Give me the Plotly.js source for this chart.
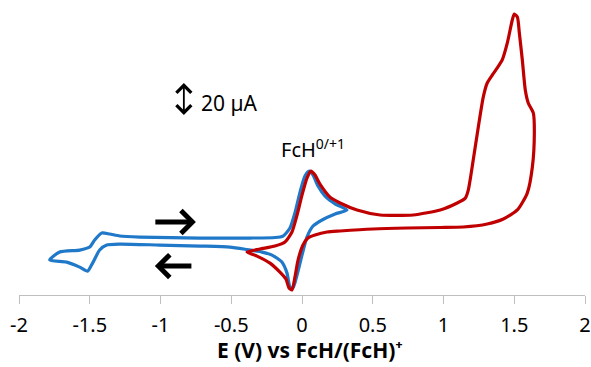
<!DOCTYPE html>
<html><head><meta charset="utf-8">
<script src="https://cdn.plot.ly/plotly-3.0.1.min.js"></script>
<style>html,body{margin:0;padding:0;background:#fff}</style>
</head><body><div id="chart" style="width:591px;height:367px"></div>
<script>
// Potential E (V vs FcH/FcH+) and current I (µA)
const blueE = [0.318,0.234,0.142,0.078,0.035,0.000,-0.035,-0.064,-0.085,-0.106,-0.142,-0.212,-0.283,-0.389,-0.51,-0.72,-1.005,-1.288,-1.38,-1.43,-1.48,-1.515,-1.571,-1.663,-1.783,
  -1.713,-1.571,-1.50,-1.465,-1.415,-1.359,-1.288,-1.146,-0.722,-0.368,-0.19,-0.134,-0.085,-0.05,-0.014,0.021,0.05,0.078,0.113,0.163,0.234,0.318];
const blueI = [18.0,15.6,12.0,8.4,1.8,-9.0,-21.0,-28.7,-28.1,-19.8,-13.2,-9.0,-7.2,-5.7,-4.2,-3.6,-3.0,-2.4,-3.0,-6.0,-13.8,-18.6,-16.2,-13.2,-12.0,
  -7.2,-6.0,-4.2,0,4.2,3.6,2.4,1.8,1.2,1.2,1.5,2.4,7.2,16.2,28.7,38.3,41.3,38.9,32.3,26.3,21.6,18.0];

const redE = [-0.389,-0.297,-0.191,-0.12,-0.071,-0.035,0.0,0.035,0.064,0.092,0.127,0.198,0.269,0.389,0.552,0.786,0.977,1.097,1.154,1.175,1.21,1.246,1.281,1.309,1.345,1.38,1.415,1.451,1.486,1.50,1.522,1.536,1.557,1.578,1.599,1.635,
  1.642,1.628,1.592,1.522,1.423,1.309,1.139,0.977,0.743,0.502,0.269,0.177,0.092,0.042,0.007,-0.028,-0.05,-0.071,-0.092,-0.113,-0.156,-0.226,-0.318,-0.389];
const redI = [-7.2,-5.4,-3.6,-1.2,4.8,15.0,26.9,37.1,41.3,38.9,33.5,25.7,22.2,18.0,15.0,15.0,18.0,22.2,25.1,29.9,47.9,67.7,85.6,94.0,98.8,103.0,107.8,118.0,131.7,135.3,133.5,124.0,107.8,89.8,82.0,76.0,
  64.1,43.7,28.1,18.0,12.6,9.6,7.8,7.5,7.2,6.6,5.4,4.8,3.0,1.2,-3.0,-12.0,-22.2,-29.9,-28.7,-23.4,-19.2,-13.8,-9.6,-7.2];

const xTicks = [-2,-1.5,-1,-0.5,0,0.5,1,1.5,2];
const xTickText = ['-2','-1.5','-1','-0.5','0','0.5','1','1.5','2'];
const scaleBarI = 20; // µA

const FONT = 'Noto Sans, Open Sans, Liberation Sans, sans-serif';
const traces = [
  {x: blueE, y: blueI, mode: 'lines', line: {color: '#1f78c8', width: 3.2, shape: 'spline', smoothing: 0.6}, hoverinfo: 'skip'},
  {x: redE, y: redI, mode: 'lines', line: {color: '#c00000', width: 3.2, shape: 'spline', smoothing: 0.6}, hoverinfo: 'skip'}
];
const layout = {
  width: 591, height: 367,
  margin: {l: 19, r: 6, t: 5, b: 72},
  showlegend: false,
  paper_bgcolor: '#fff', plot_bgcolor: '#fff',
  font: {family: FONT, color: '#000'},
  xaxis: {
    range: [-2, 2], tickvals: xTicks, ticktext: xTickText,
    ticks: 'outside', ticklen: 8, tickcolor: '#bfbfbf', tickwidth: 1,
    showline: true, linecolor: '#bfbfbf', linewidth: 1,
    showgrid: false, zeroline: false, automargin: false,
    ticklabelstandoff: 4,
    tickfont: {family: FONT, size: 20, color: '#000'}
  },
  yaxis: {range: [-32.9, 140.7], visible: false, showgrid: false, zeroline: false},
  annotations: [
    {x: 0.515, y: -0.245, xref: 'paper', yref: 'paper', yanchor: 'bottom', xanchor: 'center', showarrow: false,
     text: '<b>E (V) vs FcH/(FcH)⁺</b>', font: {family: FONT, size: 21, color: '#000'}},
    {x: -0.835, y: 74.9, ax: -0.835, ay: 74.9 + scaleBarI, xref: 'x', yref: 'y', axref: 'x', ayref: 'y',
     showarrow: true, arrowhead: 4, startarrowhead: 4, arrowside: 'end+start', arrowwidth: 1.8, arrowsize: 1.6, startarrowsize: 1.6, arrowcolor: '#000', text: ''},
    {x: -0.51, y: 82, xref: 'x', yref: 'y', text: '20 µA', showarrow: false, font: {family: FONT, size: 21, color: '#000'}},
    {x: 0.08, y: 55, xref: 'x', yref: 'y', text: 'FcH<sup>0/+1</sup>', showarrow: false, font: {family: FONT, size: 20, color: '#000'}},
    {x: -0.75, y: 10.8, ax: -1.047, ay: 10.8, xref: 'x', yref: 'y', axref: 'x', ayref: 'y',
     showarrow: true, arrowhead: 4, arrowwidth: 5, arrowsize: 0.88, arrowcolor: '#000', text: ''},
    {x: -1.04, y: -15.6, ax: -0.771, ay: -15.6, xref: 'x', yref: 'y', axref: 'x', ayref: 'y',
     showarrow: true, arrowhead: 4, arrowwidth: 5, arrowsize: 0.88, arrowcolor: '#000', text: ''}
  ]
};
Plotly.newPlot('chart', traces, layout, {staticPlot: true, displayModeBar: false});
</script></body></html>
